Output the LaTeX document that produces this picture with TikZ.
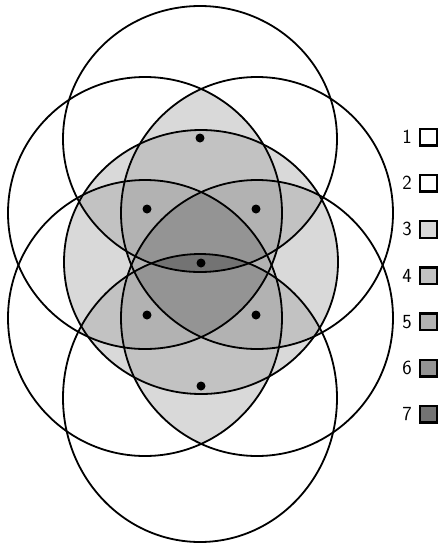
\documentclass[tikz,border=0pt]{standalone}
\usetikzlibrary{positioning}

\tikzset{
  ring/.style={draw=black, line width=1.8pt},
  dot/.style={circle, fill=black, inner sep=0pt, minimum size=9pt},
  key/.style={draw=black, line width=2.4pt, minimum size=16.6pt, inner sep=0pt},
  keynum/.style={font=\fontsize{20}{20}\sffamily, inner sep=0pt},
  % radii of the seven circles
  r1/.style={x radius=137, y radius=133},
  r2/.style={x radius=137, y radius=136},
  r3/.style={x radius=136, y radius=136},
  r4/.style={x radius=137, y radius=132},
  r5/.style={x radius=137, y radius=138},
  r6/.style={x radius=136, y radius=138},
  r7/.style={x radius=137, y radius=144},
}

% clip to every circle that is not skipped
\newcommand\clipunless[1]{%
  \ifnum#1=\ska\relax\else\ifnum#1=\skb\relax\else
  \ifnum#1=\skc\relax\else\ifnum#1=\skd\relax\else
    \clip (c#1) circle[r#1];
  \fi\fi\fi\fi}
\newcommand\clipall{\clipunless1\clipunless2\clipunless3\clipunless4%
  \clipunless5\clipunless6\clipunless7}
\def\ska{0}\def\skb{0}\def\skc{0}\def\skd{0}

\begin{document}
\begin{tikzpicture}[x=1pt, y=-1pt]
  \useasboundingbox (0,0) rectangle (439,547);

  \coordinate (c1) at (200,139);
  \coordinate (c2) at (145,213);
  \coordinate (c3) at (257,213);
  \coordinate (c4) at (201,262);
  \coordinate (c5) at (145,318);
  \coordinate (c6) at (257,318);
  \coordinate (c7) at (200,398);

  % covered by 3 or more
  \foreach \ska in {1,...,7}{\foreach \skb in {1,...,7}{\foreach \skc in {1,...,7}{\foreach \skd in {1,...,7}{
    \ifnum\ska<\skb\ifnum\skb<\skc\ifnum\skc<\skd
      \begin{scope}\clipall\fill[black!15] (0,0) rectangle (439,547);\end{scope}
    \fi\fi\fi}}}}
  % covered by 4 or more
  \foreach \ska in {1,...,7}{\foreach \skb in {1,...,7}{\foreach \skc in {1,...,7}{
    \ifnum\ska<\skb\ifnum\skb<\skc
      \begin{scope}\clipall\fill[black!24] (0,0) rectangle (439,547);\end{scope}
    \fi\fi}}}
  % covered by 5 or more
  \foreach \ska in {1,...,7}{\foreach \skb in {1,...,7}{
    \ifnum\ska<\skb
      \begin{scope}\clipall\fill[black!30] (0,0) rectangle (439,547);\end{scope}
    \fi}}
  % covered by 6 or more
  \foreach \ska in {1,...,7}{
    \begin{scope}\clipall\fill[black!42] (0,0) rectangle (439,547);\end{scope}}
  % covered by all 7
  \begin{scope}\clipall\fill[black!55] (0,0) rectangle (439,547);\end{scope}

  % circles
  \foreach \i in {1,...,7}
    \draw[ring] (c\i) circle[r\i];

  % centres
  \node[dot] (d1) at (200,138) {};
  \node[dot] (d2) at (147,209) {};
  \node[dot] (d3) at (256,209) {};
  \node[dot] (d4) at (201,263) {};
  \node[dot] (d5) at (147,315) {};
  \node[dot] (d6) at (256,315) {};
  \node[dot] (d7) at (201,386) {};

  % legend
  \foreach \k/\shade in {1/white, 2/white, 3/black!15, 4/black!24, 5/black!30, 6/black!42, 7/black!55}{
    \node[key, fill=\shade] (k\k) at (428.5,{137+46.2*(\k-1)}) {};
    \node[keynum, left=7pt of k\k] (n\k) {\k};
  }
\end{tikzpicture}
\end{document}
